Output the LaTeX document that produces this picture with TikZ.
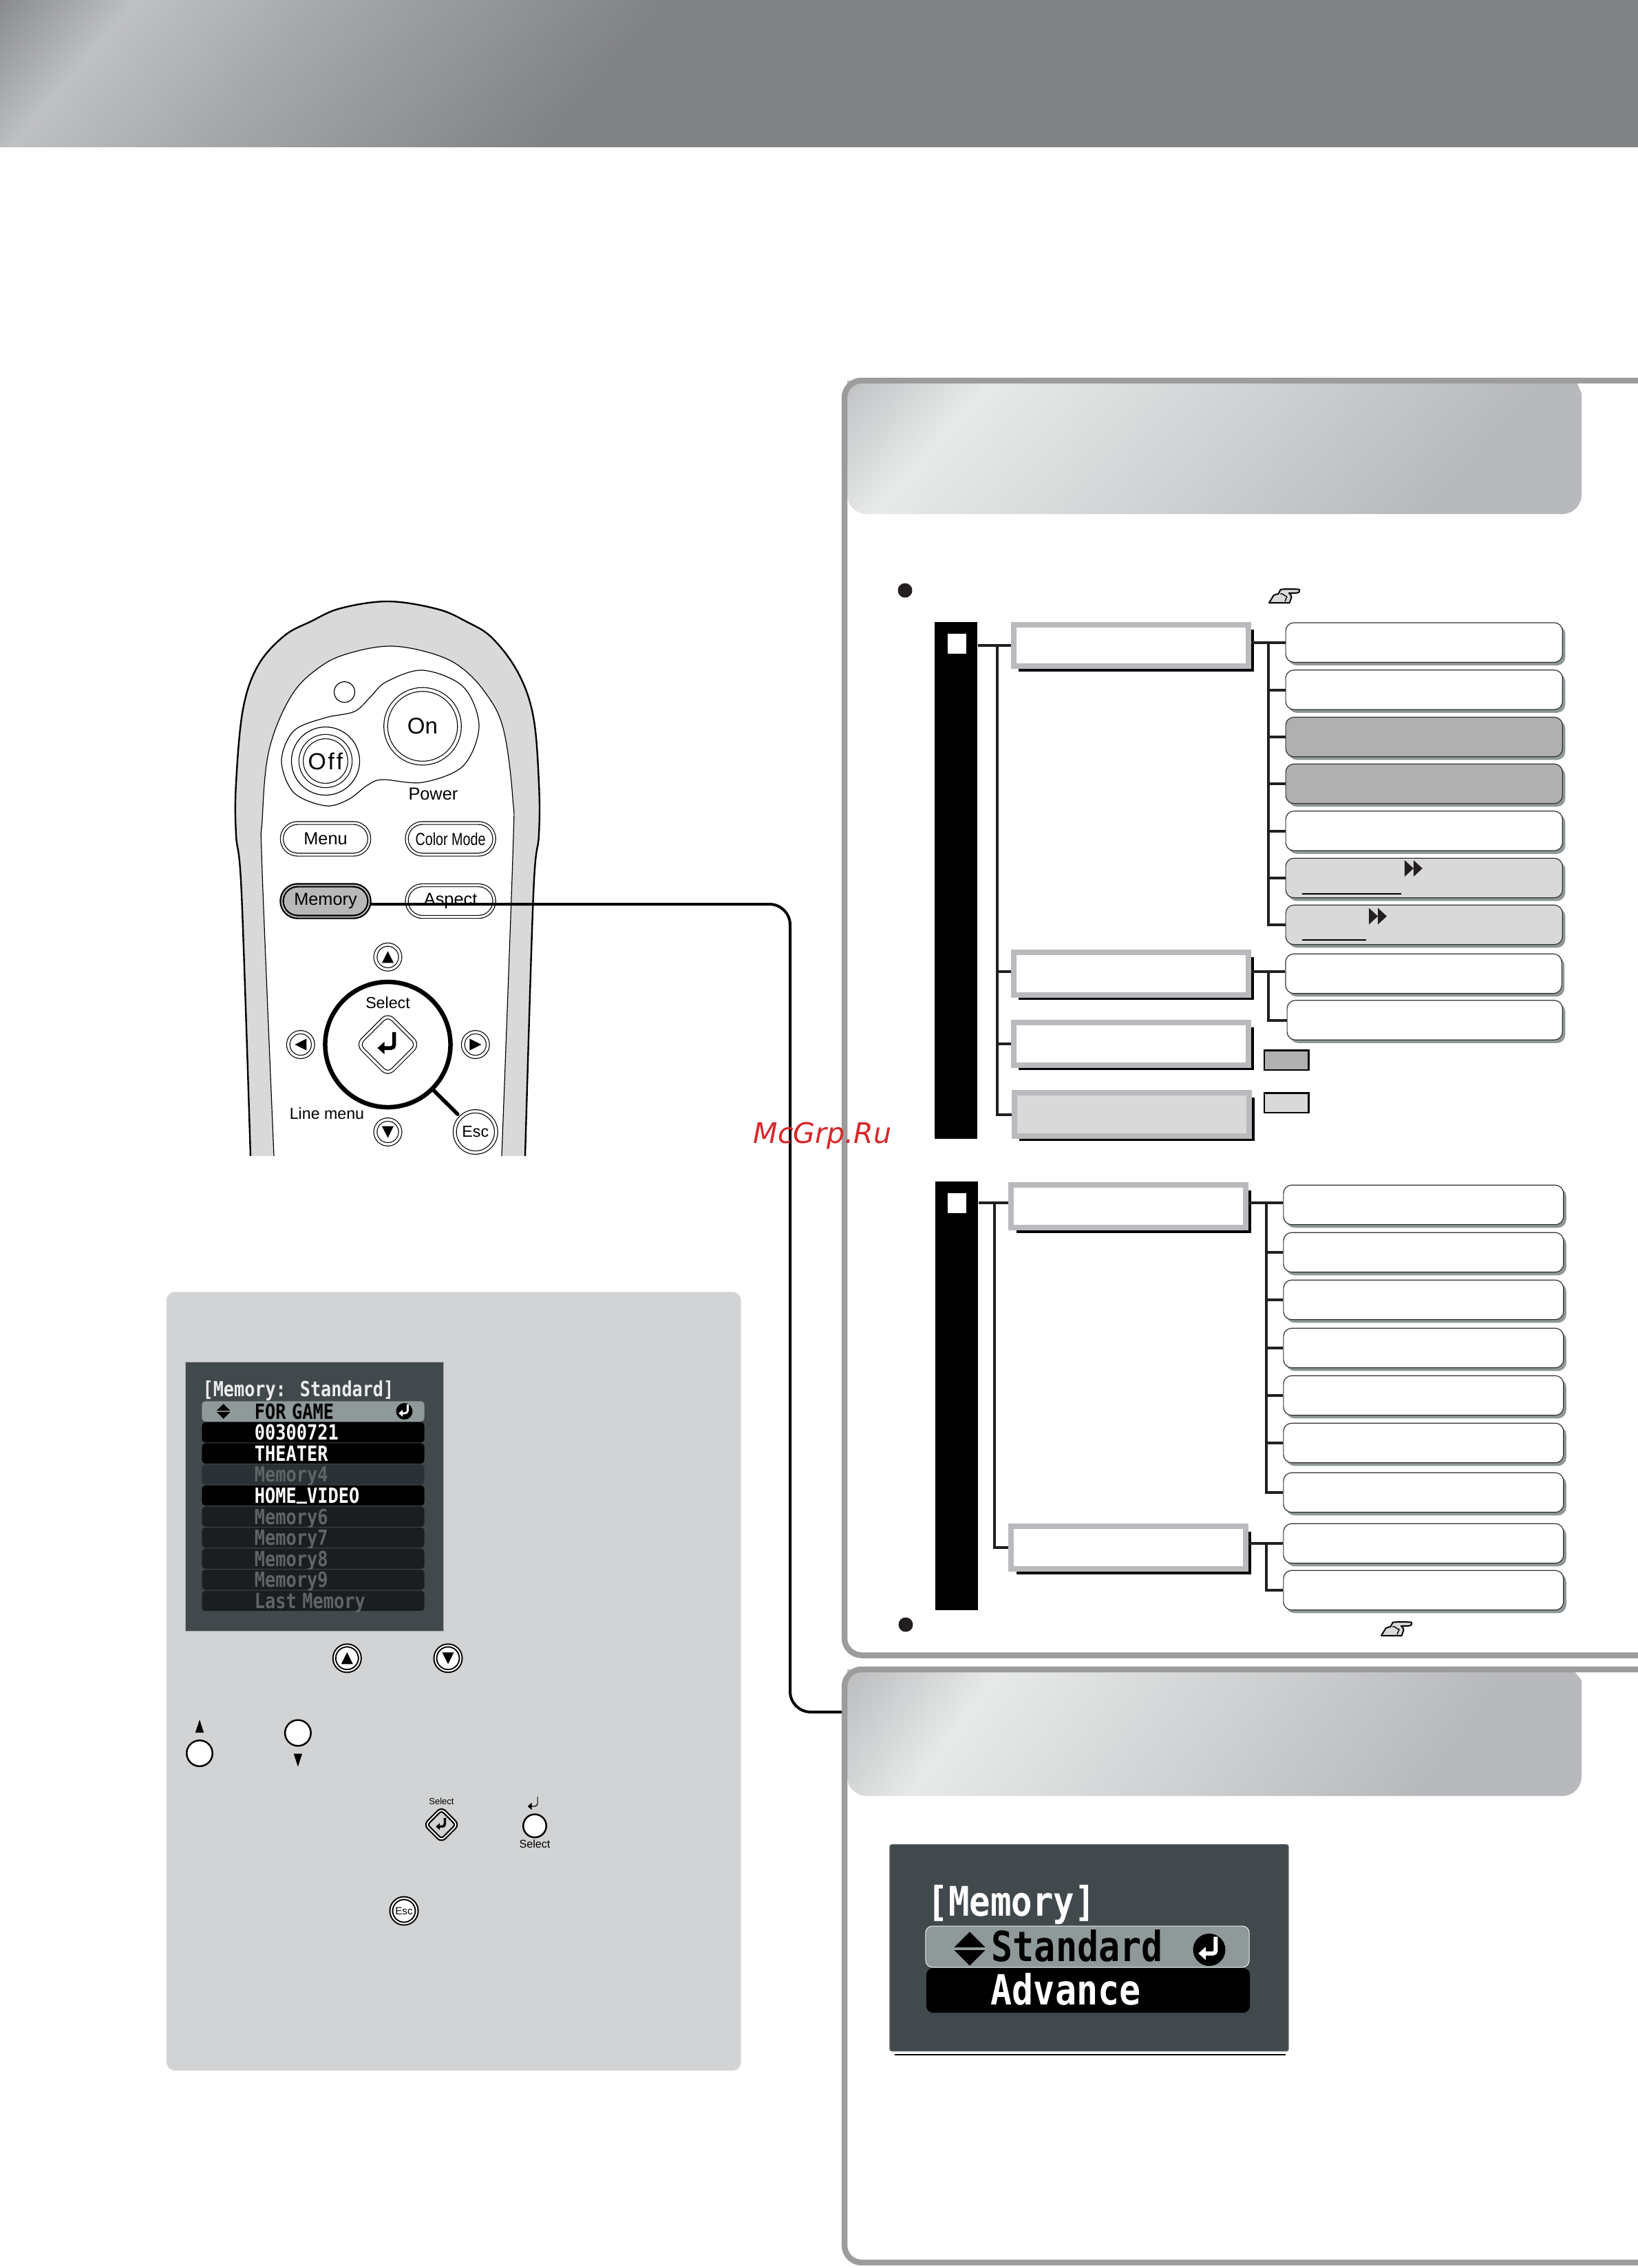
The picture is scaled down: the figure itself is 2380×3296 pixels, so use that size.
\documentclass[tikz,border=0pt]{standalone}
\usepackage{fontspec}
\setmainfont{Liberation Sans}
\newfontfamily\osdfont{DejaVu Sans Mono}
\newfontfamily\markfont{DejaVu Sans}
\usetikzlibrary{calc, shadows, shapes.geometric, shapes.misc}

\definecolor{bannerdark}{HTML}{808185}
\definecolor{bannerleft}{HTML}{8A8B8D}
\definecolor{bannerlight}{HTML}{BFC0C2}
\definecolor{bannermid}{HTML}{A5A6AA}
\definecolor{headleft}{HTML}{BFC0C2}
\definecolor{headlight}{HTML}{E8E9E9}
\definecolor{headright}{HTML}{B8B9BC}
\definecolor{panelline}{HTML}{9C9C9C}
\definecolor{boxgray}{HTML}{B9BABD}
\definecolor{wirecol}{HTML}{231F20}
\definecolor{itemshadow}{HTML}{8F9797}
\definecolor{itemdark}{HTML}{B0B0B0}
\definecolor{itemlight}{HTML}{D9D9D9}
\definecolor{greypanel}{HTML}{D1D3D4}
\definecolor{osdback}{HTML}{42494C}
\definecolor{osdpick}{HTML}{8F9999}
\definecolor{osddim}{HTML}{1B1E20}
\definecolor{osdfour}{HTML}{2B3235}
\definecolor{osdgrey}{HTML}{5F6467}
\definecolor{keygray}{HTML}{B8B8B8}
\definecolor{markred}{HTML}{D7282A}

\pgfdeclarehorizontalshading{bannershade}{100bp}{color(0bp)=(bannerleft); color(30.5bp)=(bannerleft); color(33.5bp)=(bannerlight); color(38bp)=(bannermid); color(45.5bp)=(bannerdark); color(100bp)=(bannerdark)}
\pgfdeclarehorizontalshading{headshade}{100bp}{color(0bp)=(headleft); color(30.5bp)=(headleft); color(37.2bp)=(headlight); color(62bp)=(headright); color(100bp)=(headright)}

\tikzset{
    menubox/.style={rectangle, draw=boxgray, line width=0.08cm, fill=white, minimum width=3.415cm, minimum height=0.62cm, inner sep=0pt},
    itembox/.style={rectangle, draw=black!80, line width=0.012cm, rounded corners=0.12cm, minimum width=4.02cm, minimum height=0.575cm, inner sep=0pt, drop shadow={shadow xshift=0.04cm, shadow yshift=-0.045cm, fill=itemshadow, opacity=1}},
    menushade/.style={line width=0.035cm, black},
    wire/.style={line width=0.04cm, wirecol},
    sidebar/.style={rectangle, fill=black, minimum width=0.625cm, inner sep=0pt},
    tabmark/.style={rectangle, fill=white, minimum width=0.27cm, minimum height=0.29cm, inner sep=0pt},
    legendbox/.style={rectangle, draw=black, line width=0.025cm, minimum width=0.645cm, minimum height=0.285cm, inner sep=0pt},
    bulletdot/.style={circle, fill=wirecol, minimum size=0.21cm, inner sep=0pt},
    panelframe/.style={line width=0.085cm, panelline, rounded corners=0.25cm},
    capsulekey/.style={rounded rectangle, draw=black, line width=0.012cm, double=white, double distance=0.03cm, fill=white, minimum width=1.27cm, minimum height=0.46cm, inner sep=0pt},
    roundkey/.style={circle, draw=black, line width=0.012cm, double=white, double distance=0.035cm, fill=white, minimum size=0.36cm, inner sep=0pt},
    boldkey/.style={circle, draw=black, line width=0.02cm, double=white, double distance=0.02cm, fill=white, minimum size=0.37cm, inner sep=0pt},
    plainkey/.style={circle, draw=black, line width=0.025cm, fill=white, minimum size=0.375cm, inner sep=0pt},
    remotefont/.style={font=\fontsize{7.2}{7.2}\selectfont},
    osdrow/.style={rectangle, rounded corners=0.05cm, minimum height=0.295cm, text width=3.23cm, inner xsep=0pt, inner ysep=0pt, text height=0.22cm, text depth=0cm, align=left, font=\osdfont\bfseries\fontsize{7.2}{7.2}\selectfont},
    bigrow/.style={rectangle, rounded corners=0.1cm, minimum width=4.7cm, inner sep=0pt},
    triup/.pic={\fill[pic actions] (-8.5,8.5) -- (8.5,8.5) -- (0,-8.5) -- cycle;},
    updown/.pic={\fill[pic actions] (-11,-1) -- (11,-1) -- (0,-12) -- cycle; \fill[pic actions] (-11,1) -- (11,1) -- (0,12) -- cycle;},
    fastfwd/.pic={\fill[wirecol] (0,-12) -- (13,0) -- (0,12) -- cycle; \fill[wirecol] (13,-12) -- (26,0) -- (13,12) -- cycle;},
    enterarrow/.pic={
        \draw[pic actions, rounded corners=0.04cm] (9,-18) -- (9,5) -- (-6,5);
        \fill[pic actions] (-5,-4) -- (-5,14) -- (-15,5) -- cycle;
    },
    handicon/.pic={
        \draw[fill=itemlight, line width=0.02cm, line join=round] (0,21) -- (6.7,10) -- (13.7,7.7) -- (16.7,1.7) -- (23.7,1) -- (42.4,1.3) to[out=0,in=0,looseness=1.6] (40.7,6.7) -- (28.7,7) to[out=-20,in=90] (32.4,13) -- (29.7,21) -- cycle;
        \draw[line width=0.014cm] (16,8) to[out=20,in=170] (26,12) -- (23,19);
    }
}

\begin{document}
\begin{tikzpicture}[x=0.01cm,y=-0.01cm]
    \useasboundingbox (0,0) rectangle (2380,3296);

    \begin{scope}
        \clip (0,0) rectangle (2380,213);
        \shade[shading=bannershade, shading angle=-40.5] (-60,-1144) rectangle (2440,1356);
    \end{scope}

    \begin{scope}
        \clip (1231,553) -- (2290,553) -- (2298,572) [rounded corners=0.28cm] -- (2298,747) -- (1231,747) [sharp corners] -- cycle;
        \shade[shading=headshade, shading angle=-42] (1165,52) rectangle (2365,1252);
    \end{scope}
    \begin{scope}
        \clip (1231,2426) -- (2285,2426) -- (2298,2442) [rounded corners=0.28cm] -- (2298,2610) -- (1231,2610) [sharp corners] -- cycle;
        \shade[shading=headshade, shading angle=-36] (1165,1920) rectangle (2365,3120);
    \end{scope}
    \draw[panelframe] (2400,553) -- (1227,553) -- (1227,2405.5) -- (2400,2405.5);
    \draw[panelframe] (2400,2426) -- (1227,2426) -- (1227,3288) -- (2400,3288);

    \fill[greypanel, rounded corners=0.12cm] (242,1877.5) rectangle (1076.5,3009);

    % remote control
    \fill[itemlight] (364,1680) -- plot[smooth, tension=0.6] coordinates {(364,1680) (351,1299) (343,1213) (343,1138) (353,1031) (375,967) (413,924) (452,903) (495,884) (564,874) (635,885) (677,903) (715,927) (753,978) (775,1042) (783,1138) (783,1213) (775,1299) (763,1680)} -- cycle;
    \draw[line width=0.024cm] plot[smooth, tension=0.6] coordinates {(364,1680) (351,1299) (343,1213) (343,1138) (353,1031) (375,967) (413,924) (452,903) (495,884) (564,874) (635,885) (677,903) (715,927) (753,978) (775,1042) (783,1138) (783,1213) (775,1299) (763,1680)};
    \fill[white] plot[smooth, tension=0.6] coordinates {(398,1680) (381,1267) (381,1192) (391,1090) (424,1010) (468,967) (512,948) (567,939) (622,948) (666,967) (704,1005) (731,1058) (745,1160) (745,1246) (729,1680)};
    \draw[line width=0.012cm] plot[smooth, tension=0.6] coordinates {(398,1680) (381,1267) (381,1192) (391,1090) (424,1010) (468,967) (512,948) (567,939) (622,948) (666,967) (704,1005) (731,1058) (745,1160) (745,1246) (729,1680)};

    \draw[line width=0.012cm] (500.5,1005.7) circle [radius=15];
    \draw[line width=0.012cm] plot[smooth cycle, tension=0.55] coordinates {(409,1106) (427,1062) (473,1043) (515,1034) (539,1012) (561,991) (614,974) (673,998) (696,1055) (673,1113) (614,1137) (556,1133) (534,1141) (506,1162) (473,1171) (427,1152)};
    \node[circle, draw, line width=0.012cm, minimum size=0.99cm, inner sep=0pt] (ringOff) at (473,1106) {};
    \node[roundkey, minimum size=0.71cm, double distance=0.05cm] (keyOff) at (473,1106) {\fontsize{9.6}{9.6}\selectfont O\kern0.8pt f\kern0.8pt f};
    \node[roundkey, minimum size=1.07cm, double distance=0.043cm] (keyOn) at (614,1055.5) {\fontsize{9.4}{9.4}\selectfont On};
    \node[remotefont, inner sep=0pt] (labelPower) at (629.4,1154) {Power};

    \node[capsulekey, remotefont] (keyMenu) at (473,1219) {Menu};
    \node[capsulekey, remotefont] (keyColor) at (654.6,1219) {\scalebox{0.78}[1]{Color Mode}};
    \node[capsulekey, remotefont, line width=0.022cm, double=keygray, double distance=0.02cm, fill=keygray] (keyMemory) at (473,1309.5) {Memory};
    \node[capsulekey, remotefont] (keyAspect) at (654.6,1309.5) {Aspect};

    \node[circle, draw, line width=0.065cm, minimum size=1.82cm, inner sep=0pt] (keyRing) at (563.5,1518) {};
    \node[font=\fontsize{6.6}{6.6}\selectfont, inner sep=0pt] (labelSelect) at (563.5,1457) {Select};
    \node[diamond, draw, line width=0.012cm, double=white, double distance=0.035cm, rounded corners=0.1cm, aspect=1, minimum size=0.88cm, inner sep=0pt] (keySelect) at (563.5,1518) {};
    \pic[black, line width=0.055cm] at (keySelect) {enterarrow};
    \node[roundkey] (keyUp) at (563.5,1390.8) {};
    \node[roundkey] (keyDown) at (563.5,1645) {};
    \node[roundkey] (keyLeft) at (436.8,1518) {};
    \node[roundkey] (keyRight) at (690.8,1518) {};
    \pic at (keyUp) {triup};
    \pic[yscale=-1] at (keyDown) {triup};
    \pic[rotate=90] at (keyLeft) {triup};
    \pic[rotate=-90] at (keyRight) {triup};
    \node[roundkey, minimum size=0.6cm, font=\fontsize{6.6}{6.6}\selectfont] (keyEsc) at (690.8,1645) {Esc};
    \draw[line width=0.055cm, line cap=round, shorten >=0.06cm] (keyRing.-45) -- (keyEsc.135);
    \node[font=\fontsize{6.6}{6.6}\selectfont, inner sep=0pt] (labelLine) at (475,1618.5) {Line menu};

    % memory list on the grey panel
    \node[rectangle, fill=osdback, draw=black!35, line width=0.01cm, minimum width=3.74cm, minimum height=3.9cm, inner sep=0pt] (osdList) at (457,2175) {};
    \node[anchor=west, inner sep=0pt, white!92!black, font=\osdfont\bfseries\fontsize{7.15}{7.15}\selectfont] (osdListTitle) at (294,2021) {\scalebox{1}[1.2]{[Memory: Standard]}};
    \foreach \i/\y/\c/\t/\f in {1/2051/osdpick/FOR GAME/black, 2/2081.6/black/00300721/white, 3/2112.2/black/THEATER/white, 4/2142.8/osdfour/Memory4/osdgrey, 5/2173.4/black/{HOME\raisebox{0.05cm}{\_}VIDEO}/white, 6/2204/osddim/Memory6/osdgrey, 7/2234.6/osddim/Memory7/osdgrey, 8/2265.2/osddim/Memory8/osdgrey, 9/2295.8/osddim/Memory9/osdgrey, 10/2326.4/osddim/Last Memory/osdgrey}
        \node[osdrow, fill=\c, text=\f] (listRow\i) at (455,\y) {\hspace*{0.765cm}\scalebox{1}[1.2]{\t}};
    \pic[black, scale=0.9] at (324.7,2051) {updown};
    \fill[black] (587.5,2051) circle [radius=12];
    \pic[white, line width=0.03cm, scale=0.55] at (587.5,2051) {enterarrow};

    \node[boldkey] (stepUp) at (504.3,2409.8) {};
    \node[boldkey] (stepDown) at (651,2409.8) {};
    \pic at (stepUp) {triup};
    \pic[yscale=-1] at (stepDown) {triup};
    \node[plainkey] (tiltUp) at (290,2548) {};
    \pic[yscale=1.1, xscale=0.72] at (290,2508.5) {triup};
    \node[plainkey] (tiltDown) at (432.9,2518.4) {};
    \pic[yscale=-1.1, xscale=0.72] at (432.9,2558) {triup};

    \node[font=\fontsize{3.7}{3.7}\selectfont, inner sep=0pt] (smallSelect) at (641.5,2618) {Select};
    \node[diamond, draw, line width=0.022cm, double=white, double distance=0.018cm, rounded corners=0.06cm, aspect=1, minimum size=0.47cm, inner sep=0pt] (stepSelect) at (641.5,2651.7) {};
    \pic[black, line width=0.035cm, scale=0.55] at (stepSelect) {enterarrow};
    \pic[black, line width=0.012cm, scale=0.6] at (775.7,2622) {enterarrow};
    \node[plainkey, minimum size=0.335cm] (pressSelect) at (777,2653.4) {};
    \node[font=\fontsize{4.6}{4.6}\selectfont, inner sep=0pt] (pressLabel) at (777,2679.7) {Select};
    \node[boldkey, font=\fontsize{4.3}{4.3}\selectfont] (stepEsc) at (587,2777) {Esc};

    % menu tree
    \node[bulletdot] (bulletA) at (1315,858) {};
    \pic at (1844,855) {handicon};
    \node[sidebar, minimum height=7.51cm] (barA) at (1389,1279.5) {};
    \node[tabmark] (tabA) at (1390,935.5) {};
    \node[menubox, minimum height=0.605cm] (menuA) at (1643.5,938.2) {};
    \node[menubox] (menuB) at (1643.5,1415) {};
    \node[menubox] (menuE) at (1643.5,1517) {};
    \node[menubox, fill=itemlight, minimum height=0.63cm] (menuF) at (1644.5,1619.5) {};
    \foreach \n in {menuA,menuB,menuE,menuF}
        \draw[menushade] ([xshift=0.017cm,yshift=-0.11cm]\n.north east) |- ([xshift=0.11cm,yshift=-0.017cm]\n.south west);

    \foreach \i/\y/\c in {1/933.7/white, 2/1002.5/white, 3/1071/itemdark, 4/1139/itemdark, 5/1207.5/white, 6/1276/itemlight, 7/1344/itemlight}
        \node[itembox, fill=\c] (itemA\i) at (2069.2,\y) {};
    \node[itembox, fill=white, minimum width=4.01cm] (itemB1) at (2068.5,1415) {};
    \node[itembox, fill=white, minimum width=4cm] (itemB2) at (2070.2,1482.5) {};

    \pic at (2040.8,1262) {fastfwd};
    \draw[line width=0.012cm] (1892,1299) -- (2035.7,1299);
    \pic at (1989,1331.5) {fastfwd};
    \draw[line width=0.012cm] (1892,1366) -- (1984.7,1366);

    \node[legendbox, fill=itemdark] (legendDark) at (1869,1540.5) {};
    \node[legendbox, fill=itemlight] (legendLight) at (1869,1602.5) {};

    \coordinate (trunkA) at (1449,0);
    \coordinate (trunkB) at (1843,0);
    \coordinate (rowB) at (0,1412);
    \draw[wire] (barA.east |- menuA.west) -- (menuA.west);
    \draw[wire] (trunkA |- menuA.west) |- (menuF.west);
    \draw[wire] (trunkA |- rowB) -- (menuB.west |- rowB);
    \draw[wire] (trunkA |- menuE.west) -- (menuE.west);
    \draw[wire] (menuA.east |- itemA1.west) -- (itemA1.west);
    \draw[wire] (trunkB |- itemA1.west) |- (itemA7.west);
    \foreach \i in {2,...,6}
        \draw[wire] (trunkB |- itemA\i.west) -- (itemA\i.west);
    \draw[wire] (menuB.east |- rowB) -- (itemB1.west |- rowB);
    \draw[wire] (trunkB |- rowB) |- (itemB2.west);

    \node[sidebar, minimum height=6.23cm] (barB) at (1390,2028.5) {};
    \node[tabmark] (tabB) at (1390,1748) {};
    \node[menubox, minimum width=3.408cm] (menuC) at (1639.4,1753) {};
    \node[menubox, minimum width=3.408cm] (menuD) at (1639.4,2249) {};
    \foreach \n in {menuC,menuD}
        \draw[menushade, line width=0.04cm] ([xshift=0.02cm,yshift=-0.12cm]\n.north east) |- ([xshift=0.12cm,yshift=-0.02cm]\n.south west);
    \foreach \i/\y in {1/1751, 2/1820, 3/1889, 4/1959, 5/2028, 6/2097, 7/2169, 8/2243, 9/2311}
        \node[itembox, fill=white, minimum width=4.067cm] (itemC\i) at (2068.3,\y) {};

    \coordinate (trunkC) at (1444.5,0);
    \coordinate (trunkD) at (1840,0);
    \coordinate (rowC) at (0,1748);
    \draw[wire] (barB.east |- rowC) -- (menuC.west |- rowC);
    \draw[wire] (trunkC |- rowC) |- (menuD.west);
    \draw[wire] (menuC.east |- rowC) -- (itemC1.west |- rowC);
    \draw[wire] (trunkD |- rowC) |- (itemC7.west);
    \foreach \i in {2,...,6}
        \draw[wire] (trunkD |- itemC\i.west) -- (itemC\i.west);
    \draw[wire] (menuD.east |- itemC8.west) -- (itemC8.west);
    \draw[wire] (trunkD |- itemC8.west) |- (itemC9.west);
    \node[bulletdot] (bulletB) at (1316,2361) {};
    \pic at (2007,2356) {handicon};

    % memory mode window
    \draw[line width=0.012cm] (1300,2986) -- (1868,2986);
    \node[rectangle, fill=osdback, draw=black!60, line width=0.01cm, rounded corners=0.03cm, minimum width=5.79cm, minimum height=3cm, inner sep=0pt] (osdMode) at (1582.5,2830.7) {};
    \node[anchor=west, inner sep=0pt, white, font=\osdfont\bfseries\fontsize{14.4}{14.4}\selectfont] (osdModeTitle) at (1347,2768) {\scalebox{1}[1.17]{[Memory]}};
    \node[bigrow, fill=osdpick, draw=white!85!osdpick, line width=0.01cm, minimum height=0.6cm] (rowStandard) at (1580,2829) {};
    \node[bigrow, fill=black, minimum height=0.65cm] (rowAdvance) at (1581,2892.5) {};
    \node[anchor=west, inner sep=0pt, black, font=\osdfont\bfseries\fontsize{14.7}{14.7}\selectfont] (textStandard) at (1440,2828) {\scalebox{1}[1.17]{Standard}};
    \node[anchor=west, inner sep=0pt, white, font=\osdfont\bfseries\fontsize{14.7}{14.7}\selectfont] (textAdvance) at (1439,2891) {\scalebox{1}[1.17]{Advance}};
    \pic[black, scale=2.05] at (1409,2832) {updown};
    \fill[black] (1757,2833.5) circle [radius=23.5];
    \pic[white, line width=0.06cm, scale=1.05] at (1757,2833.5) {enterarrow};

    \coordinate (linkStart) at ([yshift=-0.045cm]keyMemory.east);
    \coordinate (linkBend) at (1148,2488);
    \coordinate (linkEnd) at (1223,2488);
    \draw[line width=0.04cm, rounded corners=0.3cm] (linkStart) -| (linkBend) -- (linkEnd);

    \node[inner sep=0pt, text=markred, font=\markfont\itshape\fontsize{11.7}{11.7}\selectfont] (markText) at (1195,1650) {McGrp.Ru};
\end{tikzpicture}
\end{document}
